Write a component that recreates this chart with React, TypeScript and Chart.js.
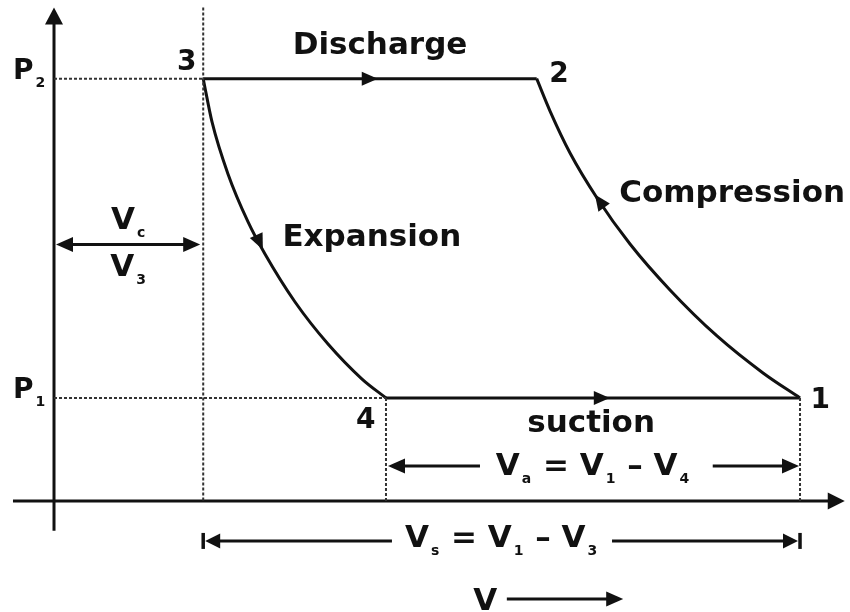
import React, { useEffect, useRef } from "react";
import { Chart, registerables } from "chart.js";

Chart.register(...registerables);

// ---- Cycle data (arbitrary units) ----
const V1 = 10.0; // state 1 volume
const V2 = 6.47; // state 2 volume
const V3 = 2.0; // state 3 volume (clearance)
const V4 = 4.45; // state 4 volume
const P1 = 1.0; // suction pressure
const P2 = 4.1; // discharge pressure

const expansionV = [2.0, 2.118, 2.332, 2.601, 2.828, 3.231, 3.673, 4.129, 4.45];
const expansionP = [4.1, 3.68, 3.175, 2.709, 2.398, 1.932, 1.524, 1.184, 1.0];
const compressionV = [6.47, 6.649, 6.917, 7.279, 7.721, 8.257, 8.887, 9.504, 10.0];
const compressionP = [4.1, 3.786, 3.379, 2.942, 2.495, 2.049, 1.602, 1.243, 1.0];

const stateNames = ["1", "2", "3", "4"];
const processNames = ["Discharge", "Compression", "Expansion", "suction"];

// ---- view window ----
const X_MIN = -0.724;
const X_MAX = 10.67;
const Y_MIN = -1.078;
const Y_MAX = 4.864;

const INK = "#111111";
const DOT = "#333333";
const FONT_FAMILY = '"DejaVu Sans", Verdana, sans-serif';
const MAIN_FONT = `bold 31px ${FONT_FAMILY}`;
const DIGIT_FONT = `bold 28px ${FONT_FAMILY}`;
const SUB_FONT = `bold 14px ${FONT_FAMILY}`;

type Seg = { t: string; sub?: boolean };

const toPts = (xs: number[], ys: number[]) => xs.map((x, i) => ({ x, y: ys[i] }));

function drawRich(
  ctx: CanvasRenderingContext2D,
  segs: Seg[],
  x: number,
  y: number,
  align: "left" | "center",
  mainFont: string
) {
  ctx.textAlign = "left";
  ctx.textBaseline = "alphabetic";
  let total = 0;
  const parts = segs.map((s) => {
    ctx.font = s.sub ? SUB_FONT : mainFont;
    const w = ctx.measureText(s.t).width + (s.sub ? 3 : 0);
    total += w;
    return { ...s, w };
  });
  let cx = align === "center" ? x - total / 2 : x;
  for (const p of parts) {
    ctx.font = p.sub ? SUB_FONT : mainFont;
    ctx.fillText(p.t, cx + (p.sub ? 2 : 0), p.sub ? y + 8 : y);
    cx += p.w;
  }
}

function arrowHead(
  ctx: CanvasRenderingContext2D,
  tx: number,
  ty: number,
  fx: number,
  fy: number,
  len: number,
  half: number
) {
  const dx = tx - fx;
  const dy = ty - fy;
  const d = Math.hypot(dx, dy) || 1;
  const ux = dx / d;
  const uy = dy / d;
  const bx = tx - ux * len;
  const by = ty - uy * len;
  ctx.beginPath();
  ctx.moveTo(tx, ty);
  ctx.lineTo(bx - uy * half, by + ux * half);
  ctx.lineTo(bx + uy * half, by - ux * half);
  ctx.closePath();
  ctx.fill();
}

const annotationPlugin = {
  id: "pvAnnotations",
  afterDatasetsDraw(chart: any) {
    const ctx: CanvasRenderingContext2D = chart.ctx;
    const xs = chart.scales.x;
    const ys = chart.scales.y;
    const X = (v: number) => xs.getPixelForValue(v);
    const Y = (v: number) => ys.getPixelForValue(v);
    ctx.save();
    ctx.fillStyle = INK;
    ctx.strokeStyle = INK;
    ctx.lineCap = "butt";

    // axis arrowheads
    arrowHead(ctx, X(10.6), Y(0), X(10), Y(0), 17, 8.5);
    arrowHead(ctx, X(0), Y(4.79), X(0), Y(4), 17, 9);

    // process direction arrows
    arrowHead(ctx, X(4.34), Y(P2), X(V3), Y(P2), 16, 7);
    arrowHead(ctx, X(7.45), Y(P1), X(V4), Y(P1), 16, 7);
    arrowHead(ctx, X(7.25), Y(2.975), X(7.721), Y(2.495), 16, 7);
    arrowHead(ctx, X(2.8), Y(2.44), X(2.332), Y(3.175), 16, 7);

    // dimension lines
    ctx.lineWidth = 3;
    const hline = (a: number, b: number, y: number) => {
      ctx.beginPath();
      ctx.moveTo(X(a), Y(y));
      ctx.lineTo(X(b), Y(y));
      ctx.stroke();
    };
    // Vc
    const yc = 2.49;
    hline(0.1, V3 - 0.1, yc);
    arrowHead(ctx, X(0) + 2, Y(yc), X(1), Y(yc), 17, 7.5);
    arrowHead(ctx, X(V3) - 3, Y(yc), X(1), Y(yc), 17, 7.5);
    // Va
    const ya = 0.34;
    hline(V4 + 0.1, 5.71, ya);
    hline(8.83, V1 - 0.1, ya);
    arrowHead(ctx, X(V4) + 2, Y(ya), X(6), Y(ya), 17, 7.5);
    arrowHead(ctx, X(V1) - 1, Y(ya), X(8), Y(ya), 17, 7.5);
    // Vs
    const yv = -0.388;
    hline(V3 + 0.1, 4.53, yv);
    hline(7.48, V1 - 0.1, yv);
    arrowHead(ctx, X(V3) + 2, Y(yv), X(4), Y(yv), 15, 7.5);
    arrowHead(ctx, X(V1) - 2, Y(yv), X(8), Y(yv), 15, 7.5);
    ctx.lineWidth = 3.5;
    for (const v of [V3, V1]) {
      ctx.beginPath();
      ctx.moveTo(X(v), Y(yv) - 8);
      ctx.lineTo(X(v), Y(yv) + 8);
      ctx.stroke();
    }
    ctx.lineWidth = 3;
    // V axis label arrow
    const yl = -0.951;
    hline(6.07, 7.5, yl);
    arrowHead(ctx, X(7.63), Y(yl), X(7), Y(yl), 17, 7.5);

    // text
    ctx.fillStyle = INK;
    const word = (t: string, x: number, y: number) =>
      drawRich(ctx, [{ t }], X(x), Y(y), "center", MAIN_FONT);
    word(processNames[0], 4.37, 4.34);
    word(processNames[1], 9.09, 2.9);
    word(processNames[2], 4.26, 2.476);
    word(processNames[3], 7.2, 0.67);

    const digit = (t: string, x: number, y: number) =>
      drawRich(ctx, [{ t }], X(x), Y(y), "center", DIGIT_FONT);
    digit(stateNames[0], 10.27, 0.9);
    digit(stateNames[1], 6.77, 4.07);
    digit(stateNames[2], 1.78, 4.18);
    digit(stateNames[3], 4.18, 0.709);

    drawRich(ctx, [{ t: "P" }, { t: "2", sub: true }], X(-0.55), Y(P2), "left", DIGIT_FONT);
    drawRich(ctx, [{ t: "P" }, { t: "1", sub: true }], X(-0.55), Y(P1), "left", DIGIT_FONT);
    drawRich(ctx, [{ t: "V" }, { t: "c", sub: true }], X(V3 / 2), Y(2.64), "center", MAIN_FONT);
    drawRich(ctx, [{ t: "V" }, { t: "3", sub: true }], X(V3 / 2), Y(2.18), "center", MAIN_FONT);
    drawRich(
      ctx,
      [{ t: "V" }, { t: "a", sub: true }, { t: " = V" }, { t: "1", sub: true }, { t: " \u2013 V" }, { t: "4", sub: true }],
      X((V4 + V1) / 2),
      Y(0.252),
      "center",
      MAIN_FONT
    );
    drawRich(
      ctx,
      [{ t: "V" }, { t: "s", sub: true }, { t: " = V" }, { t: "1", sub: true }, { t: " \u2013 V" }, { t: "3", sub: true }],
      X((V3 + V1) / 2),
      Y(-0.447),
      "center",
      MAIN_FONT
    );
    drawRich(ctx, [{ t: "V" }], X(5.78), Y(-1.058), "center", MAIN_FONT);
    ctx.restore();
  },
};

export default function App() {
  const ref = useRef<HTMLCanvasElement | null>(null);
  useEffect(() => {
    if (!ref.current) return;
    const solid = (data: { x: number; y: number }[], curved = false) => ({
      data,
      showLine: true,
      pointRadius: 0,
      borderColor: INK,
      borderWidth: 3,
      cubicInterpolationMode: curved ? "monotone" : "default",
      tension: curved ? 0.4 : 0,
      fill: false,
    });
    const dotted = (data: { x: number; y: number }[]) => ({
      data,
      showLine: true,
      pointRadius: 0,
      borderColor: DOT,
      borderWidth: 2,
      borderDash: [3, 2],
      fill: false,
    });
    const chart = new Chart(ref.current, {
      type: "scatter",
      data: {
        datasets: [
          // guides
          dotted([{ x: 0, y: P2 }, { x: V3, y: P2 }]),
          dotted([{ x: 0, y: P1 }, { x: V4, y: P1 }]),
          dotted([{ x: V3, y: 4.79 }, { x: V3, y: 0 }]),
          dotted([{ x: V4, y: P1 }, { x: V4, y: 0 }]),
          dotted([{ x: V1, y: P1 }, { x: V1, y: 0 }]),
          // axes
          solid([{ x: -0.55, y: 0 }, { x: 10.4, y: 0 }]),
          solid([{ x: 0, y: -0.29 }, { x: 0, y: 4.65 }]),
          // cycle
          solid([{ x: V3, y: P2 }, { x: V2, y: P2 }]),
          solid(toPts(compressionV, compressionP), true),
          solid([{ x: V4, y: P1 }, { x: V1, y: P1 }]),
          solid(toPts(expansionV, expansionP), true),
        ] as any,
      },
      options: {
        animation: false,
        responsive: false,
        devicePixelRatio: 1,
        layout: { padding: 0 },
        plugins: { legend: { display: false }, tooltip: { enabled: false } },
        scales: {
          x: { type: "linear", min: X_MIN, max: X_MAX, display: false },
          y: { type: "linear", min: Y_MIN, max: Y_MAX, display: false },
        },
      },
      plugins: [annotationPlugin],
    });
    return () => chart.destroy();
  }, []);
  return (
    <div style={{ position: "fixed", left: 0, top: 0, width: 850, height: 612, background: "#fff" }}>
      <canvas ref={ref} width={850} height={612} />
    </div>
  );
}
